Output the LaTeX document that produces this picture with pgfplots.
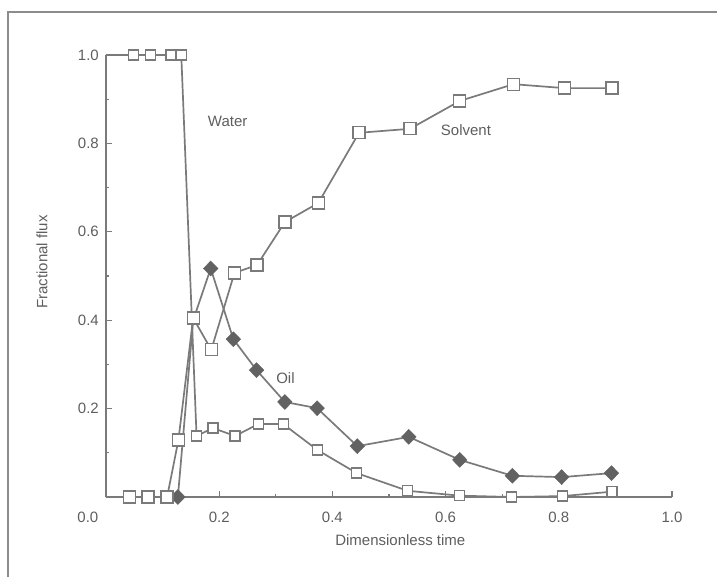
\documentclass[border=0pt]{standalone}
\usepackage{pgfplots}
\pgfplotsset{compat=1.18}
\usepackage{fontspec}
\setmainfont{Liberation Sans}
\definecolor{ln}{HTML}{7A7A7A}
\definecolor{tx}{HTML}{5E5E5E}
\definecolor{dm}{HTML}{626262}
\definecolor{fr}{HTML}{8C8C8C}
\begin{document}
\fontsize{15bp}{17bp}\selectfont
\begin{tikzpicture}
\path[use as bounding box] (-106bp,-80bp) rectangle (611bp,497bp);
\draw[fr, line width=2bp] (-98bp,-80bp) -- (-98bp,485bp) -- (611bp,485bp);
\begin{axis}[
  scale only axis, width=566bp, height=442bp,
  xmin=0, xmax=1, ymin=0, ymax=1,
  axis x line=bottom, axis y line=left,
  axis line style={-, ln, line width=2.5bp},
  tick align=inside,
  xtick={0.2,0.4,0.6,0.8,1.0}, xticklabels={0.2,0.4,0.6,0.8,1.0},
  ytick={0.2,0.4,0.6,0.8,1.0}, yticklabels={0.2,0.4,0.6,0.8,1.0},
  minor xtick={0.1,0.3,0.5,0.7,0.9}, minor ytick={0.1,0.3,0.5,0.7,0.9},
  major tick length=6bp, minor tick length=3.5bp,
  tick style={ln, line width=1.2bp},
  xticklabel style={tx, yshift=-9.5bp},
  yticklabel style={tx, xshift=-2bp},
  clip=false,
]
% Water
\addplot[ln, line width=1.7bp, mark=none] coordinates {
 (0,1) (0.048,1) (0.079,1) (0.115,1) (0.133,1) (0.16,0.138) (0.189,0.156)
 (0.228,0.138) (0.269,0.165) (0.313,0.165) (0.374,0.106) (0.443,0.054)
 (0.533,0.014) (0.625,0.003) (0.717,0.0) (0.806,0.002) (0.894,0.012)};
\addplot[only marks, mark=square*, mark size=5bp, mark options={fill=white, draw=ln, line width=1.3bp}] coordinates {
 (0.048,1) (0.079,1) (0.115,1) (0.133,1) (0.16,0.138) (0.189,0.156)
 (0.228,0.138) (0.269,0.165) (0.313,0.165) (0.374,0.106) (0.443,0.054)
 (0.533,0.014) (0.625,0.003) (0.717,0.0) (0.806,0.002) (0.894,0.012)};
% Oil
\addplot[ln, line width=1.7bp, mark=none] coordinates {
 (0.127,0) (0.154,0.40) (0.185,0.517) (0.225,0.357) (0.266,0.287) (0.316,0.215)
 (0.373,0.201) (0.444,0.115) (0.535,0.136) (0.625,0.084) (0.718,0.048)
 (0.805,0.045) (0.893,0.054)};
\addplot[only marks, mark=diamond*, mark size=7.5bp, mark options={fill=dm, draw=dm, xscale=1.3}] coordinates {
 (0.127,0) (0.185,0.517) (0.225,0.357) (0.266,0.287) (0.316,0.215)
 (0.373,0.201) (0.444,0.115) (0.535,0.136) (0.625,0.084) (0.718,0.048)
 (0.805,0.045) (0.893,0.054)};
% Solvent
\addplot[ln, line width=1.7bp, mark=none] coordinates {
 (0,0) (0.042,0) (0.074,0) (0.108,0) (0.128,0.129) (0.154,0.405) (0.186,0.333)
 (0.227,0.507) (0.267,0.525) (0.316,0.622) (0.375,0.665) (0.447,0.824)
 (0.537,0.833) (0.625,0.896) (0.72,0.934) (0.81,0.925) (0.894,0.925)};
\addplot[only marks, mark=square*, mark size=6bp, mark options={fill=white, draw=ln, line width=1.3bp}] coordinates {
 (0.042,0) (0.074,0) (0.108,0) (0.128,0.129) (0.154,0.405) (0.186,0.333)
 (0.227,0.507) (0.267,0.525) (0.316,0.622) (0.375,0.665) (0.447,0.824)
 (0.537,0.833) (0.625,0.896) (0.72,0.934) (0.81,0.925) (0.894,0.925)};
% labels
\node[tx] at (axis cs:0.215,0.85) {Water};
\node[tx] at (axis cs:0.636,0.83) {Solvent};
\node[tx] at (axis cs:0.317,0.269) {Oil};
\node[tx] at (axis cs:-0.032,-0.045) {0.0};
\node[tx] at (axis cs:0.52,-0.097) {Dimensionless time};
\node[tx, rotate=90] at (axis cs:-0.113,0.532) {Fractional flux};
\end{axis}
\end{tikzpicture}
\end{document}
